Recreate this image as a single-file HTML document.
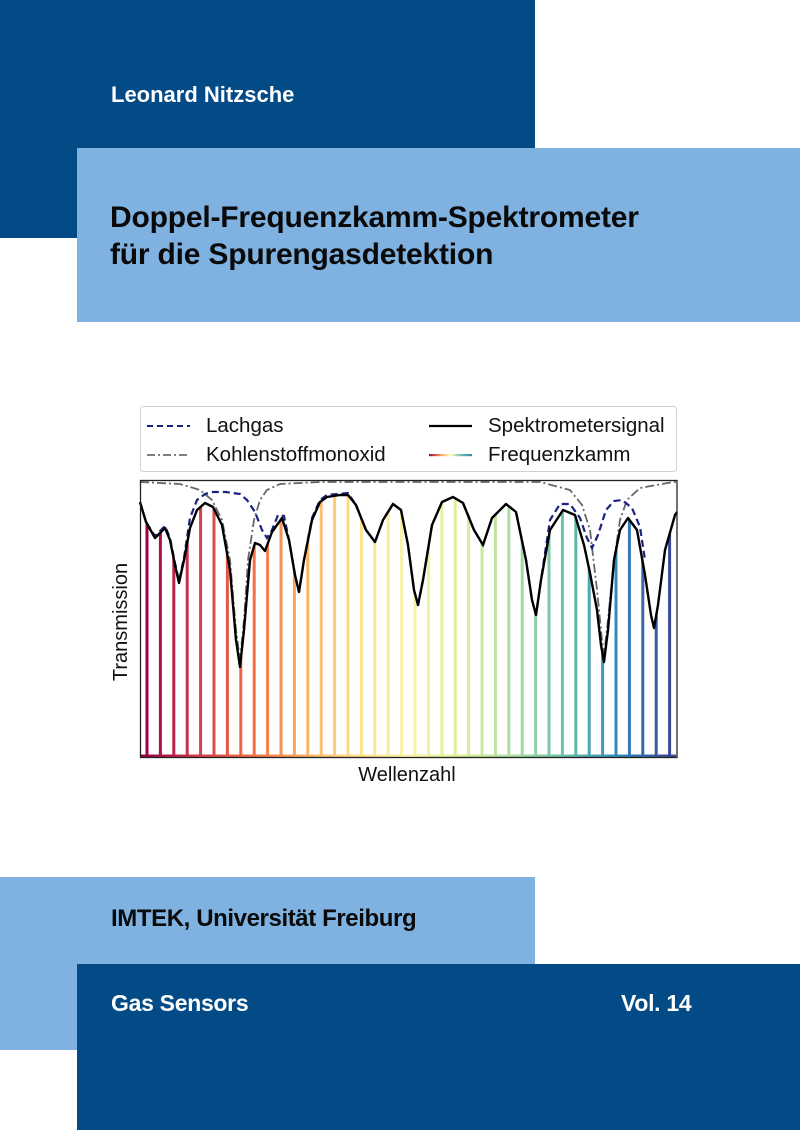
<!DOCTYPE html>
<html><head><meta charset="utf-8"><style>
html,body{margin:0;padding:0;}
body{width:800px;height:1130px;position:relative;overflow:hidden;background:#fff;font-family:"Liberation Sans",Arial,sans-serif;}
.b{position:absolute;}
.t{position:absolute;font-weight:bold;white-space:nowrap;}
</style></head><body>
<div class="b" style="left:0;top:0;width:535px;height:238px;background:#034b87"></div>
<div class="b" style="left:77px;top:148px;width:723px;height:174px;background:#7fb2e0"></div>
<div class="b" style="left:0;top:877px;width:535px;height:173px;background:#7fb2e0"></div>
<div class="b" style="left:77px;top:964px;width:723px;height:166px;background:#034b87"></div>
<div class="t" style="left:111px;top:82px;font-size:22px;color:#fff">Leonard Nitzsche</div>
<div class="t" style="left:110px;top:199px;font-size:30px;line-height:37px;color:#0a0a0a;letter-spacing:-0.2px">Doppel-Frequenzkamm-Spektrometer<br>für die Spurengasdetektion</div>
<div class="t" style="left:111px;top:905px;font-size:24px;color:#0a0a0a;letter-spacing:-0.4px">IMTEK, Universität Freiburg</div>
<div class="t" style="left:111px;top:990px;font-size:23px;color:#fff;letter-spacing:-0.3px">Gas Sensors</div>
<div class="t" style="left:621px;top:990px;font-size:23px;color:#fff;letter-spacing:-0.3px">Vol. 14</div>

<svg class="b" style="left:0;top:0" width="800" height="1130" viewBox="0 0 800 1130">
<defs>
<linearGradient id="sp" gradientUnits="userSpaceOnUse" x1="147" y1="0" x2="670" y2="0">
<stop offset="0" stop-color="#9e0142"/><stop offset="0.1" stop-color="#d53e4f"/><stop offset="0.2" stop-color="#f46d43"/><stop offset="0.3" stop-color="#fdae61"/><stop offset="0.4" stop-color="#fee08b"/><stop offset="0.5" stop-color="#f8f4a8"/><stop offset="0.6" stop-color="#dcef98"/><stop offset="0.7" stop-color="#abdda4"/><stop offset="0.8" stop-color="#66c2a5"/><stop offset="0.9" stop-color="#3288bd"/><stop offset="1" stop-color="#3a4898"/>
</linearGradient>
<linearGradient id="lg" x1="0" y1="0" x2="1" y2="0">
<stop offset="0" stop-color="#9e0142"/><stop offset="0.3" stop-color="#fdae61"/><stop offset="0.5" stop-color="#ffffbf"/><stop offset="0.75" stop-color="#66c2a5"/><stop offset="1" stop-color="#3288bd"/>
</linearGradient>
<clipPath id="under">
<path d="M140,502 L146,522 155,538 160,533 165,528 170,540 175,565 179,583 184,560 190,528 197,510 205,503 213,507 222,525 230,570 236,640 240,667 244,630 250,560 255,543 260,545 265,551 272,532 282,518 289,540 295,575 299,592 304,560 312,520 320,502 327,497 340,495 348,495 356,505 366,530 375,542 383,520 393,504 401,510 408,545 414,590 418,605 423,580 432,525 442,502 453,497 463,503 474,530 483,545 492,518 506,504 516,512 526,560 532,600 536,615 541,580 550,530 563,510 575,515 584,545 590,573 597,610 601,645 604,662 608,630 614,560 620,530 628,518 637,530 645,575 651,615 654,628 658,605 665,550 675,515 677,512 L677,757 L140,757 Z"/>
</clipPath>
</defs>
<!-- legend -->
<rect x="140.5" y="406.5" width="536" height="65" rx="3" fill="#fff" stroke="#d0d0d0"/>
<line x1="147" y1="426" x2="190" y2="426" stroke="#1a237e" stroke-width="2" stroke-dasharray="6,4"/>
<line x1="147" y1="455" x2="190" y2="455" stroke="#555" stroke-width="1.6" stroke-dasharray="8,3,2,3"/>
<line x1="429" y1="426" x2="472" y2="426" stroke="#000" stroke-width="2.2"/>
<rect x="429" y="454" width="43" height="2.2" fill="url(#lg)"/>
<g font-family="Liberation Sans, Arial, sans-serif" font-size="20.5" fill="#111">
<text x="206" y="432">Lachgas</text>
<text x="206" y="461">Kohlenstoffmonoxid</text>
<text x="488" y="432">Spektrometersignal</text>
<text x="488" y="461">Frequenzkamm</text>
<text x="407" y="781" text-anchor="middle" font-size="20">Wellenzahl</text>
<text transform="translate(127,622) rotate(-90)" text-anchor="middle" font-size="20">Transmission</text>
</g>
<!-- comb -->
<g clip-path="url(#under)" stroke="url(#sp)" fill="none">
<path stroke-width="3" d="M147,757V480M160.4,757V480M173.8,757V480M187.2,757V480M200.6,757V480M214,757V480M227.4,757V480M240.8,757V480M254.2,757V480M267.6,757V480M281,757V480M294.4,757V480M307.8,757V480M321.2,757V480M334.6,757V480M348,757V480M361.4,757V480M374.8,757V480M388.2,757V480M401.6,757V480M415,757V480M428.4,757V480M441.8,757V480M455.2,757V480M468.6,757V480M482,757V480M495.4,757V480M508.8,757V480M522.2,757V480M535.6,757V480M549,757V480M562.4,757V480M575.8,757V480M589.2,757V480M602.6,757V480M616,757V480M629.4,757V480M642.8,757V480M656.2,757V480M669.6,757V480"/>
</g>
<g stroke="url(#sp)" fill="none" stroke-width="3">
<path d="M141,756h535"/>
</g>
<!-- CO -->
<path d="M140,482 L180,484 200,490 212,500 222,520 230,560 236,630 240,660 244,620 248,560 254,520 260,500 267,490 280,484 320,482 540,482 570,490 582,505 590,530 597,590 602,640 604,655 608,620 614,560 620,520 627,500 640,488 673,482 677,482" fill="none" stroke="#666" stroke-width="1.8" stroke-dasharray="9,3,2,3"/>
<!-- Lachgas -->
<path d="M140,502 L146,522 155,536 160,531 165,526 170,538 175,563 179,581 184,558 190,518 197,500 205,494 213,492 226,492 240,494 247,500 255,512 262,530 267,538 272,530 278,515 284,516 289,540 295,575 299,592 304,560 312,518 320,500 327,495 348,493 356,505 366,530 375,542 383,520 393,504 401,510 408,545 414,590 418,605 423,580 432,525 442,502 453,497 463,503 474,530 483,545 492,518 506,504 516,512 526,560 532,600 536,615 541,580 550,520 560,504 570,504 580,518 587,538 592,548 598,535 606,510 614,501 622,500 632,508 640,527 645,560" fill="none" stroke="#1a237e" stroke-width="2.2" stroke-dasharray="7,4"/>
<!-- signal -->
<path d="M140,502 L146,522 155,538 160,533 165,528 170,540 175,565 179,583 184,560 190,528 197,510 205,503 213,507 222,525 230,570 236,640 240,667 244,630 250,560 255,543 260,545 265,551 272,532 282,518 289,540 295,575 299,592 304,560 312,520 320,502 327,497 340,495 348,495 356,505 366,530 375,542 383,520 393,504 401,510 408,545 414,590 418,605 423,580 432,525 442,502 453,497 463,503 474,530 483,545 492,518 506,504 516,512 526,560 532,600 536,615 541,580 550,530 563,510 575,515 584,545 590,573 597,610 601,645 604,662 608,630 614,560 620,530 628,518 637,530 645,575 651,615 654,628 658,605 665,550 675,515 677,512" fill="none" stroke="#000" stroke-width="2.4" stroke-linejoin="round"/>
<rect x="140.5" y="480.5" width="536.5" height="277" fill="none" stroke="#222" stroke-width="1.3"/>
</svg>
</body></html>
